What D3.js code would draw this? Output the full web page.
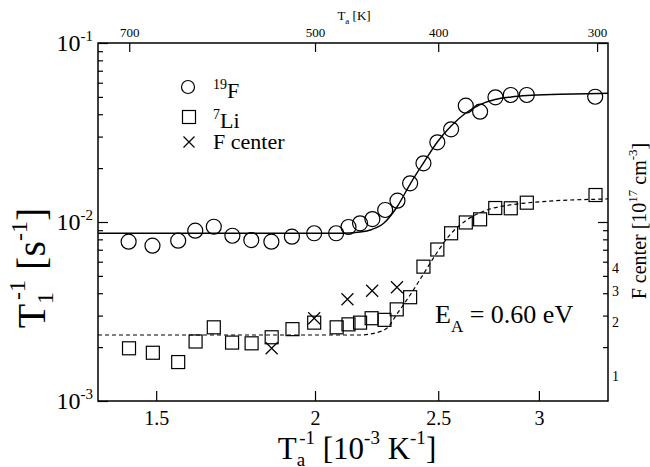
<!DOCTYPE html>
<html>
<head>
<meta charset="utf-8">
<script src="https://cdn.jsdelivr.net/npm/d3@7"></script>
<style>
	body { margin: 0; background: #fff; }
	svg { font-family: "Liberation Serif", "Times New Roman", serif; }
	.axis text { font-family: "Liberation Serif", "Times New Roman", serif; fill: #000; }
	.axis line { stroke: #000; stroke-width: 1.2; }
</style>
</head>
<body>
<svg id="chart" width="650" height="467"></svg>
<script>
// 19F relaxation rate, 1/T1 [1/s] vs 1000/Ta
var f19_x = [1.427, 1.490, 1.561, 1.610, 1.665, 1.722, 1.782, 1.848, 1.918, 1.997, 2.078, 2.125, 2.170,
	2.219, 2.271, 2.322, 2.376, 2.434, 2.496, 2.559, 2.628, 2.697, 2.773, 2.851, 2.935, 3.322];
var f19_y = [0.00776, 0.00737, 0.00786, 0.00894, 0.00941, 0.00838, 0.00793, 0.00776, 0.00828, 0.00865, 0.00865, 0.00938, 0.00983,
	0.01039, 0.01167, 0.01315, 0.01645, 0.02128, 0.02788, 0.03296, 0.04465, 0.04133, 0.04973, 0.05123, 0.05123, 0.0501];

// 7Li relaxation rate
var li7_x = [1.428, 1.491, 1.561, 1.611, 1.665, 1.721, 1.783, 1.849, 1.920, 1.997, 2.080, 2.125, 2.170,
	2.216, 2.268, 2.319, 2.376, 2.434, 2.496, 2.559, 2.628, 2.697, 2.772, 2.851, 2.935, 3.324];
var li7_y = [0.00197, 0.00186, 0.00165, 0.00215, 0.00258, 0.00212, 0.00210, 0.00227, 0.00252, 0.00274, 0.00258, 0.00268, 0.00274,
	0.00290, 0.00284, 0.00325, 0.00380, 0.00563, 0.00702, 0.00865, 0.00994, 0.01035, 0.01197, 0.01193, 0.01282, 0.01415];

// F center concentration [1e17 cm^-3] (right axis)
var fc_x = [1.849, 1.997, 2.121, 2.218, 2.320];
var fc_y = [1.97, 2.90, 3.70, 4.13, 4.32];

// fit curves
var fitF_x = [1.35, 2.093, 2.170, 2.217, 2.266, 2.320, 2.376, 2.434, 2.496, 2.559, 2.628, 2.697, 2.771, 2.853, 2.937, 3.118, 3.40];
var fitF_y = [0.00865, 0.00865, 0.00879, 0.00908, 0.00987, 0.01213, 0.01630, 0.02136, 0.02799, 0.03438, 0.04063, 0.04531,
	0.04834, 0.04994, 0.05090, 0.05169, 0.05236];
var fitLi_x = [1.35, 2.170, 2.230, 2.279, 2.320, 2.376, 2.434, 2.496, 2.559, 2.629, 2.731, 2.848, 2.969, 3.40];
var fitLi_y = [0.002337, 0.002337, 0.002399, 0.002557, 0.003062, 0.003911, 0.005122, 0.006798, 0.008625, 0.01019,
	0.01167, 0.01245, 0.01288, 0.01345];

// ticks
var bottom_ticks = [1.5, 2, 2.5, 3];
var top_ticks = [700, 500, 400, 300];
var left_major = [1e-3, 1e-2, 1e-1];
var left_exp = ["-3", "-2", "-1"];
var right_labels = [1, 2, 3, 4];

var L = 98, R = 608, T = 43, B = 401;
var svg = d3.select("#chart");

var x = d3.scaleLog().domain([1.35, 3.4]).range([L, R]);
var y = d3.scaleLog().domain([1e-3, 1e-1]).range([B, T]);
var yR = d3.scaleLog().domain([1, 100]).range([B, T]);

var left_minor = [];
[1e-3, 1e-2].forEach(function(d){
	for (var k = 2; k < 10; k++) left_minor.push(k * d);
});
var right_minor = [2, 3, 4, 5, 6, 7, 8, 9];

// bottom axis
var gb = svg.append("g").attr("class", "axis").attr("transform", "translate(0," + B + ")")
	.call(d3.axisBottom(x).tickValues(bottom_ticks).tickSizeInner(-10).tickSizeOuter(0).tickPadding(10)
		.tickFormat(function(d){ return String(d); }));
gb.selectAll("text").attr("font-size", "20px");
gb.select(".domain").remove();

// top axis (temperature)
var gt = svg.append("g").attr("class", "axis").attr("transform", "translate(0," + T + ")")
	.call(d3.axisTop(x).tickValues(top_ticks.map(function(t){ return 1000 / t; })).tickSizeInner(-9).tickSizeOuter(0).tickPadding(6)
		.tickFormat(function(d, i){ return top_ticks[i]; }));
gt.selectAll("text").attr("font-size", "13px");
gt.select(".domain").remove();

// left axis
var gl = svg.append("g").attr("class", "axis").attr("transform", "translate(" + L + ",0)")
	.call(d3.axisLeft(y).tickValues(left_major).tickSizeInner(-10).tickSizeOuter(0).tickFormat(""));
gl.select(".domain").remove();
var glm = svg.append("g").attr("class", "axis").attr("transform", "translate(" + L + ",0)")
	.call(d3.axisLeft(y).tickValues(left_minor).tickSizeInner(-5).tickSizeOuter(0).tickFormat(""));
glm.select(".domain").remove();

left_major.forEach(function(d, i){
	var t = svg.append("text")
		.attr("x", L - 5)
		.attr("y", y(d) + 8)
		.attr("text-anchor", "end")
		.attr("font-size", "24px");
	t.append("tspan").text("10");
	t.append("tspan").attr("font-size", "15px").attr("dy", -10).text(left_exp[i]);
});

// right axis (F center)
var gr = svg.append("g").attr("class", "axis").attr("transform", "translate(" + R + ",0)")
	.call(d3.axisRight(yR).tickValues([10, 100]).tickSizeInner(-10).tickSizeOuter(0).tickFormat(""));
gr.select(".domain").remove();
var grm = svg.append("g").attr("class", "axis").attr("transform", "translate(" + R + ",0)")
	.call(d3.axisRight(yR).tickValues(right_minor).tickSizeInner(-5).tickSizeOuter(0).tickFormat(""));
grm.select(".domain").remove();

right_labels.forEach(function(d){
	svg.append("text")
		.attr("x", R + 4)
		.attr("y", yR(d) - 20)
		.attr("font-size", "14px")
		.text(d);
});

// frame
svg.append("rect")
	.attr("x", L).attr("y", T)
	.attr("width", R - L).attr("height", B - T)
	.attr("fill", "none").attr("stroke", "#000").attr("stroke-width", 1.5);

// fit curves
svg.append("clipPath").attr("id", "plotclip")
	.append("rect").attr("x", L).attr("y", T).attr("width", R - L).attr("height", B - T);

var line = d3.line().curve(d3.curveMonotoneX)
	.x(function(d){ return x(d[0]); })
	.y(function(d){ return y(d[1]); });

svg.append("path")
	.datum(d3.zip(fitF_x, fitF_y))
	.attr("clip-path", "url(#plotclip)")
	.attr("d", line)
	.attr("fill", "none").attr("stroke", "#000").attr("stroke-width", 1.4);

svg.append("path")
	.datum(d3.zip(fitLi_x, fitLi_y))
	.attr("clip-path", "url(#plotclip)")
	.attr("d", line)
	.attr("fill", "none").attr("stroke", "#000").attr("stroke-width", 1.2)
	.attr("stroke-dasharray", "4,3");

// markers
svg.append("g").selectAll("circle")
	.data(d3.zip(f19_x, f19_y))
	.enter().append("circle")
	.attr("cx", function(d){ return x(d[0]); })
	.attr("cy", function(d){ return y(d[1]); })
	.attr("r", 7.5)
	.attr("fill", "none").attr("stroke", "#000").attr("stroke-width", 1.2);

var sq = 13;
svg.append("g").selectAll("rect")
	.data(d3.zip(li7_x, li7_y))
	.enter().append("rect")
	.attr("x", function(d){ return x(d[0]) - sq / 2; })
	.attr("y", function(d){ return y(d[1]) - sq / 2; })
	.attr("width", sq).attr("height", sq)
	.attr("fill", "none").attr("stroke", "#000").attr("stroke-width", 1.2);

function cross_path(cx, cy, s) {
	return "M" + (cx - s) + "," + (cy - s) + "L" + (cx + s) + "," + (cy + s) +
		"M" + (cx - s) + "," + (cy + s) + "L" + (cx + s) + "," + (cy - s);
}

svg.append("g").selectAll("path")
	.data(d3.zip(fc_x, fc_y))
	.enter().append("path")
	.attr("d", function(d){ return cross_path(x(d[0]), yR(d[1]), 6); })
	.attr("stroke", "#000").attr("stroke-width", 1.2);

// legend
svg.append("circle").attr("cx", 188).attr("cy", 87).attr("r", 6.5)
	.attr("fill", "none").attr("stroke", "#000").attr("stroke-width", 1.2);
svg.append("rect").attr("x", 189 - 6.5).attr("y", 117 - 6.5).attr("width", 13).attr("height", 13)
	.attr("fill", "none").attr("stroke", "#000").attr("stroke-width", 1.2);
svg.append("path").attr("d", cross_path(189, 142, 5.5)).attr("stroke", "#000").attr("stroke-width", 1.2);

var lg1 = svg.append("text").attr("x", 213).attr("y", 98).attr("font-size", "22px");
lg1.append("tspan").attr("font-size", "14px").attr("dy", -9).text("19");
lg1.append("tspan").attr("dy", 9).text("F");
var lg2 = svg.append("text").attr("x", 213).attr("y", 128).attr("font-size", "22px");
lg2.append("tspan").attr("font-size", "14px").attr("dy", -9).text("7");
lg2.append("tspan").attr("dy", 9).text("Li");
svg.append("text").attr("x", 213).attr("y", 149).attr("font-size", "22px").text("F center");

// activation energy
var ea = svg.append("text").attr("x", 435).attr("y", 323).attr("font-size", "26px");
ea.append("tspan").text("E");
ea.append("tspan").attr("font-size", "17px").attr("dy", 9).text("A");
ea.append("tspan").attr("dy", -9).text(" = 0.60 eV");

// axis titles
var xt = svg.append("text").attr("x", 357).attr("y", 459).attr("text-anchor", "middle").attr("font-size", "31px");
xt.append("tspan").text("T");
xt.append("tspan").attr("font-size", "19px").attr("dy", 7).text("a");
xt.append("tspan").attr("font-size", "19px").attr("dx", -6).attr("dy", -22).text("-1");
xt.append("tspan").attr("dy", 15).text(" [10");
xt.append("tspan").attr("font-size", "19px").attr("dy", -15).text("-3");
xt.append("tspan").attr("dy", 15).text(" K");
xt.append("tspan").attr("font-size", "19px").attr("dy", -15).text("-1");
xt.append("tspan").attr("dy", 15).text("]");

var tt = svg.append("text").attr("x", 354).attr("y", 20).attr("text-anchor", "middle").attr("font-size", "13px");
tt.append("tspan").text("T");
tt.append("tspan").attr("font-size", "9px").attr("dy", 4).text("a");
tt.append("tspan").attr("dy", -4).text(" [K]");

var yt = svg.append("text").attr("transform", "translate(45,268) rotate(-90)")
	.attr("text-anchor", "middle").attr("font-size", "40px");
yt.append("tspan").text("T");
yt.append("tspan").attr("font-size", "24px").attr("dy", 8).text("1");
yt.append("tspan").attr("font-size", "24px").attr("dx", -8).attr("dy", -28).text("-1");
yt.append("tspan").attr("dy", 20).text(" [s");
yt.append("tspan").attr("font-size", "24px").attr("dy", -18).text("-1");
yt.append("tspan").attr("dy", 18).text("]");

var rt = svg.append("text").attr("transform", "translate(646,221) rotate(-90)")
	.attr("text-anchor", "middle").attr("font-size", "20px");
rt.append("tspan").text("F center [10");
rt.append("tspan").attr("font-size", "13px").attr("dy", -9).text("17");
rt.append("tspan").attr("dy", 9).text(" cm");
rt.append("tspan").attr("font-size", "13px").attr("dy", -9).text("-3");
rt.append("tspan").attr("dy", 9).text("]");
</script>
</body>
</html>
